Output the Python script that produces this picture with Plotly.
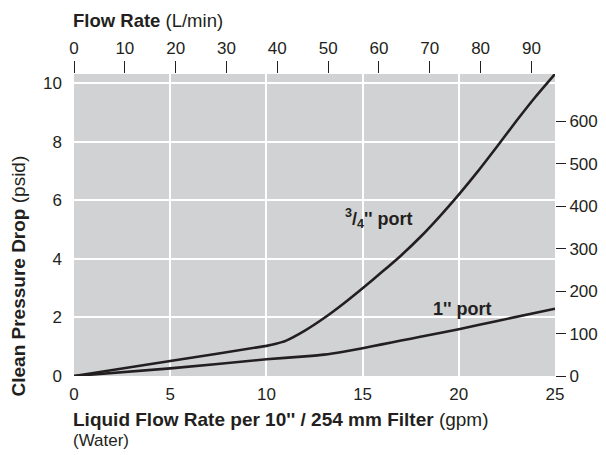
import plotly.graph_objects as go

# Data
x_34 = [0, 5, 10, 10.5, 11, 12, 13, 14, 15, 16, 17, 18, 19, 20, 21, 22, 23, 24, 25]
y_34 = [0, 0.51, 1.03, 1.1, 1.2, 1.55, 1.98, 2.47, 3.0, 3.55, 4.12, 4.75, 5.45, 6.2, 7.0, 7.85, 8.72, 9.55, 10.32]
x_1 = [0, 5, 10, 12, 13, 14, 15, 16, 17, 18, 20, 22, 25]
y_1 = [0, 0.26, 0.57, 0.67, 0.73, 0.83, 0.95, 1.08, 1.21, 1.34, 1.60, 1.88, 2.30]

gpm_ticks = [0, 5, 10, 15, 20, 25]
lpm_ticks = [0, 10, 20, 30, 40, 50, 60, 70, 80, 90]
psi_ticks = [0, 2, 4, 6, 8, 10]
mbar_ticks = [0, 100, 200, 300, 400, 500, 600]

GPM_MAX = 25
LPM_MAX = 25 * 3.7854
PSI_MAX = 10.32
MBAR_MAX = PSI_MAX * 68.95

FONT = "Liberation Sans, Arial, Helvetica, sans-serif"
INK = "#231f20"
TICK = 17

fig = go.Figure()
fig.add_trace(go.Scatter(x=x_34, y=y_34, mode="lines",
                         line=dict(color=INK, width=2.6, shape="spline", smoothing=0.5),
                         showlegend=False, hoverinfo="skip"))
fig.add_trace(go.Scatter(x=x_1, y=y_1, mode="lines",
                         line=dict(color=INK, width=2.6, shape="spline", smoothing=0.5),
                         showlegend=False, hoverinfo="skip"))
# invisible traces to activate secondary axes
fig.add_trace(go.Scatter(x=[0], y=[0], xaxis="x2", yaxis="y", mode="markers",
                         marker=dict(opacity=0), showlegend=False, hoverinfo="skip"))
fig.add_trace(go.Scatter(x=[0], y=[0], xaxis="x", yaxis="y2", mode="markers",
                         marker=dict(opacity=0), showlegend=False, hoverinfo="skip"))

fig.update_layout(
    width=606, height=455,
    margin=dict(l=74, r=51, t=74, b=79, autoexpand=False),
    paper_bgcolor="white",
    plot_bgcolor="#d1d2d4",
    font=dict(family=FONT, size=TICK, color=INK),
    xaxis=dict(range=[0, GPM_MAX], tickvals=gpm_ticks, showgrid=True,
               gridcolor="white", gridwidth=2, zeroline=False, ticks="",
               showline=False, tickfont=dict(size=TICK), ticklabelstandoff=6,
               automargin=False),
    xaxis2=dict(range=[0, LPM_MAX], tickvals=lpm_ticks, overlaying="x", side="top",
                showgrid=False, zeroline=False, ticks="outside", ticklen=12,
                tickwidth=1, tickcolor=INK, showline=False, tickfont=dict(size=TICK),
                automargin=False),
    yaxis=dict(range=[0, PSI_MAX], tickvals=psi_ticks, showgrid=True,
               gridcolor="white", gridwidth=2, zeroline=False, ticks="",
               showline=False, tickfont=dict(size=TICK), ticklabelstandoff=11,
               automargin=False),
    yaxis2=dict(range=[0, MBAR_MAX], tickvals=mbar_ticks, overlaying="y", side="right",
                showgrid=False, zeroline=False, ticks="outside", ticklen=10,
                tickwidth=1, tickcolor=INK, showline=False, tickfont=dict(size=TICK),
                automargin=False),
)

fig.add_annotation(text="<b>Flow Rate</b> (L/min)", xref="paper", yref="paper",
                   x=0, y=1, xanchor="left", yanchor="middle", yshift=54,
                   xshift=-3, showarrow=False, font=dict(size=18.5))
fig.add_annotation(text="<b>Liquid Flow Rate per 10'' / 254 mm Filter</b> (gpm)",
                   xref="paper", yref="paper", x=0, y=0, xanchor="left", yanchor="middle",
                   yshift=-43, xshift=-3, showarrow=False, font=dict(size=19))
fig.add_annotation(text="(Water)",
                   xref="paper", yref="paper", x=0, y=0, xanchor="left", yanchor="middle",
                   yshift=-64, xshift=-3, showarrow=False, font=dict(size=17))
fig.add_annotation(text="<b>Clean Pressure Drop</b> (psid)", xref="paper", yref="paper",
                   x=0, y=0, xanchor="center", yanchor="bottom", xshift=-56, yshift=-23,
                   textangle=-90, showarrow=False, font=dict(size=19))
fig.add_annotation(text="<b><sup>3</sup>/<sub>4</sub>'' port</b>", x=15.85, y=5.39,
                   showarrow=False, font=dict(size=18))
fig.add_annotation(text="<b>1'' port</b>", x=20.17, y=2.28,
                   showarrow=False, font=dict(size=18))

fig.write_html("out.html", config={"displayModeBar": False},
               post_script="document.body.style.margin='0';")
